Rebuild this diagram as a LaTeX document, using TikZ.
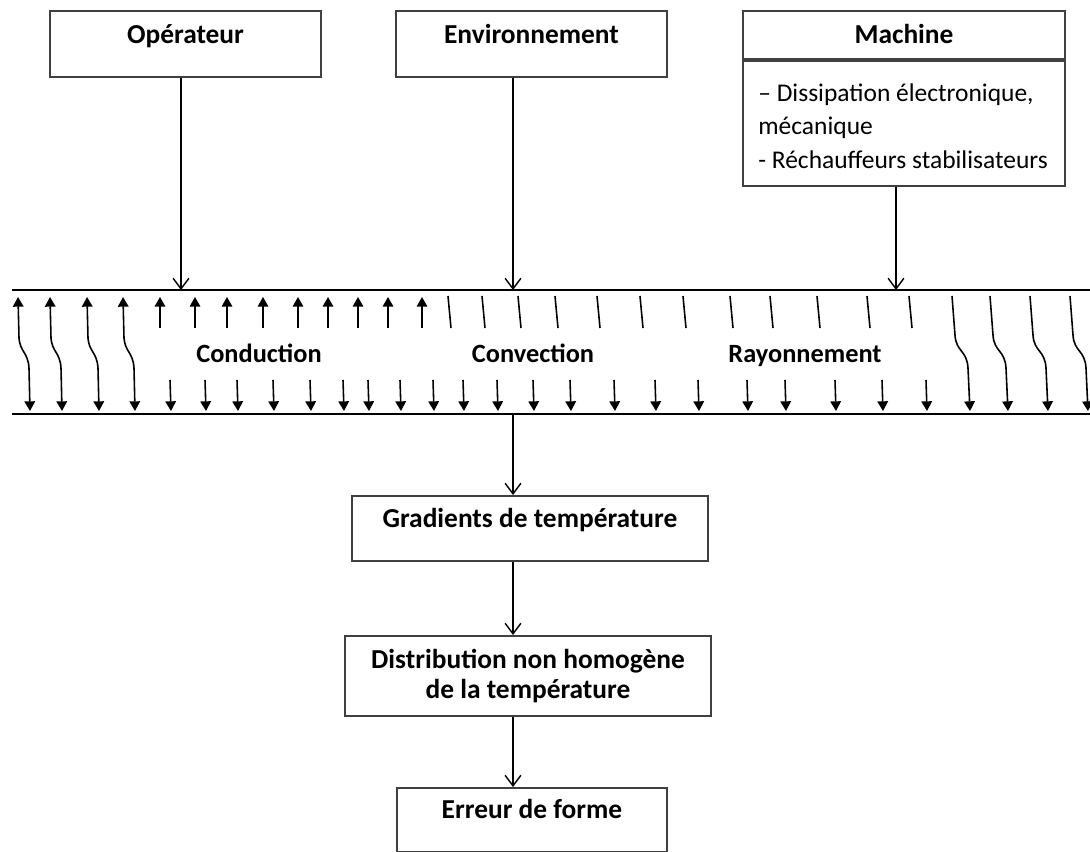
\documentclass[tikz,border=0pt]{standalone}
\usepackage{fontspec}
\setmainfont{Carlito}
\usetikzlibrary{arrows.meta}

\tikzset{
 box/.style={draw=black!75, line width=1.1pt, inner sep=0pt, anchor=north,
   font=\fontsize{15.6}{17.4}\selectfont\bfseries},
 conn/.style={line width=0.8pt, -{Straight Barb[length=6pt,width=9pt]}},
 heat/.style={line width=0.9pt, -{Triangle[length=5.5pt,width=6pt]}},
 heatboth/.style={line width=0.9pt, {Triangle[length=5.5pt,width=6pt]}-{Triangle[length=5.5pt,width=6pt]}},
 heatline/.style={line width=0.9pt},
 wall/.style={line width=1.1pt},
 mode/.style={anchor=base, font=\fontsize{15}{17}\selectfont\bfseries},
}

\begin{document}
\begin{tikzpicture}[x=0.02cm, y=-0.02cm]
\useasboundingbox (0,0) rectangle (1090,852);

% sources de chaleur
\node[box, minimum width=5.42cm, text height=0.66cm, text depth=0.66cm] (opr) at (185.5,10) {Opérateur};
\node[box, minimum width=5.42cm, text height=0.66cm, text depth=0.66cm] (env) at (531.5,10) {Environnement};
\node[box, minimum width=6.44cm, text height=0.66cm, text depth=0.30cm] (mach) at (904,10) {Machine};
\node[box, minimum width=6.44cm, minimum height=2.5cm] (machbody) at (mach.south) {};
\node[anchor=north west, inner sep=0pt, align=left, font=\fontsize{14.5}{19.3}\selectfont] (machlist) at (758,83)
  {– Dissipation électronique,\\mécanique\\- Réchauffeurs stabilisateurs};

% bande
\coordinate (bandtl) at (12,290);
\coordinate (bandtr) at (1090,290);
\coordinate (bandbl) at (12,414);
\coordinate (bandbr) at (1090,414);
\draw[wall] (bandtl) -- (bandtr);
\draw[wall] (bandbl) -- (bandbr);

\coordinate (inopr) at (181,290);
\coordinate (inenv) at (513,290);
\coordinate (inmach) at (896,290);
\draw[conn] (opr.south -| inopr) -- (inopr);
\draw[conn] (env.south -| inenv) -- (inenv);
\draw[conn] (machbody.south -| inmach) -- (inmach);

% flux
\foreach \x in {18,50,87,123}
  \draw[heatboth] (\x,297) -- (\x+1,338) .. controls (\x+2,352) and (\x+10,352) .. (\x+11,368) -- (\x+12,411);
\foreach \x in {160,195,227,263,298,328,358,388,422}
  \draw[heat] (\x,328) -- (\x,297);
\foreach \x in {448,482,518,555,597,640,683,730,770,817,867,909}
  \draw[heatline] (\x,296) -- (\x+3,328);
\foreach \x in {170,205,237,273,310,343,368,400,433,463,497,533,570,614,655,698,747,785,835,882,926}
  \draw[heat] (\x,380) -- (\x+1,411);
\foreach \x in {952,990,1030,1070}
  \draw[heat] (\x,296) -- (\x+3,335) .. controls (\x+4,352) and (\x+15,350) .. (\x+16,368) -- (\x+18,411);

\node[mode] (cond) at (259,362) {Conduction};
\node[mode] (conv) at (533,362) {Convection};
\node[mode] (rayo) at (805,362) {Rayonnement};

% effets
\coordinate (outband) at (513,414);
\node[box, minimum width=7.12cm, text height=0.64cm, text depth=0.66cm] (grad) at (530,495) {Gradients de température};
\node[box, minimum width=7.32cm, minimum height=1.6cm, align=center] (distr) at (528,635) {Distribution non homogène\\de la température};
\node[box, minimum width=5.4cm, text height=0.62cm, text depth=0.66cm] (err) at (532,787) {Erreur de forme};

\draw[conn] (outband) -- (outband |- grad.north);
\draw[conn] (grad.south -| outband) -- (distr.north -| outband);
\draw[conn] (distr.south -| outband) -- (err.north -| outband);
\end{tikzpicture}
\end{document}
